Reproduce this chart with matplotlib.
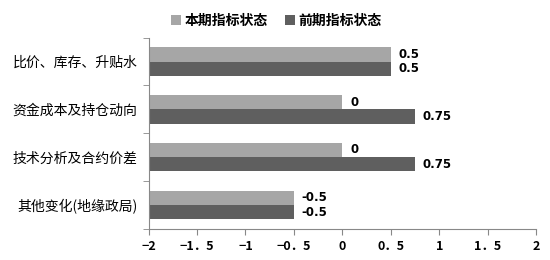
import matplotlib
matplotlib.use('Agg')
import matplotlib.pyplot as plt
import numpy as np

plt.rcParams['font.family'] = ['Noto Sans CJK SC', 'DejaVu Sans']

categories = ['比价、库存、升贴水', '资金成本及持仓动向', '技术分析及合约价差', '其他变化(地缘政局)']
current = [0.5, 0, 0, -0.5]
previous = [0.5, 0.75, 0.75, -0.5]
series_names = ['本期指标状态', '前期指标状态']
xticks = [-2, -1.5, -1, -0.5, 0, 0.5, 1, 1.5, 2]
xtick_labels = ['−2', '−1．5', '−1', '−0．5', '0', '0．5', '1', '1．5', '2']

light = '#a6a6a6'
dark = '#5f5f5f'
base = -2

fig = plt.figure(figsize=(5.5, 2.6), dpi=100)
ax = fig.add_axes([0.27, 0.12, 0.705, 0.735])

y = np.arange(len(categories))
h = 0.3
cur = np.array(current)
prev = np.array(previous)
ax.barh(y - h / 2, cur - base, left=base, height=h, color=light, label=series_names[0])
ax.barh(y + h / 2, prev - base, left=base, height=h, color=dark, label=series_names[1])

def fmt(v):
    return '0' if v == 0 else f'{v:g}'

for i in range(len(categories)):
    ax.text(cur[i] + 0.08, y[i] - h / 2, fmt(cur[i]), va='center', ha='left',
            fontsize=8.5, fontweight='bold', family='DejaVu Sans')
    ax.text(prev[i] + 0.08, y[i] + h / 2, fmt(prev[i]), va='center', ha='left',
            fontsize=8.5, fontweight='bold', family='DejaVu Sans')

ax.set_xlim(-2, 2)
ax.set_ylim(len(categories) - 0.5, -0.5)
ax.set_xticks(xticks)
ax.set_xticklabels(xtick_labels, fontsize=9, fontweight='bold')
ax.set_yticks(y)
ax.set_yticklabels(categories, fontsize=10)
ax.set_yticks(np.arange(len(categories) + 1) - 0.5, minor=True)
ax.tick_params(axis='y', which='major', length=0, pad=8)
ax.tick_params(axis='y', which='minor', length=4, color='#888888', direction='out')
ax.tick_params(axis='x', length=4, color='#888888', pad=4)

for s in ['top', 'right']:
    ax.spines[s].set_visible(False)
for s in ['left', 'bottom']:
    ax.spines[s].set_color('#888888')
    ax.spines[s].set_linewidth(0.8)

ax.legend(loc='lower center', bbox_to_anchor=(0.33, 1.0), ncol=2, frameon=False,
          prop={'size': 10, 'weight': 'bold'}, handlelength=0.7, handleheight=0.7,
          handletextpad=0.3, columnspacing=1.2, borderaxespad=0.3)

fig.savefig('out.png', dpi=100, facecolor='white')
